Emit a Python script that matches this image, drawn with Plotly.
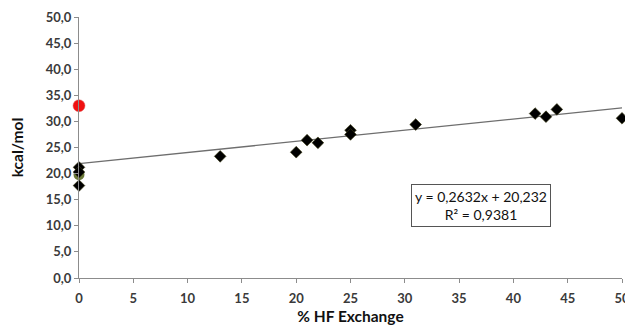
import plotly.graph_objects as go

# Data
hf_x = [0, 0, 0, 13, 20, 21, 22, 25, 25, 31, 42, 43, 44, 50]
kcal_y = [21.2, 20.3, 17.7, 23.3, 24.1, 26.4, 25.9, 28.3, 27.5, 29.4, 31.5, 30.9, 32.3, 30.6]
green_x = [0]
green_y = [19.8]
red_x = [0]
red_y = [33.0]
trend_x = [0, 50]
trend_y = [21.9, 32.6]
eq_text = "y = 0,2632x + 20,232<br>R² = 0,9381"

FONT = "Lato, 'Open Sans', sans-serif"

fig = go.Figure()
fig.add_trace(go.Scatter(x=trend_x, y=trend_y, mode="lines",
                         line=dict(color="#6e6e6e", width=1.3),
                         hoverinfo="skip", showlegend=False))
fig.add_trace(go.Scatter(x=green_x, y=green_y, mode="markers",
                         marker=dict(symbol="circle", size=11, color="#6b7a3a"),
                         showlegend=False, cliponaxis=False))
fig.add_trace(go.Scatter(x=hf_x, y=kcal_y, mode="markers",
                         marker=dict(symbol="diamond", size=9, color="#000000",
                                     line=dict(color="#3a3a10", width=0.6)),
                         showlegend=False, cliponaxis=False))
fig.add_trace(go.Scatter(x=red_x, y=red_y, mode="markers",
                         marker=dict(symbol="circle", size=12, color="#f01010",
                                     line=dict(color="#e06060", width=0.5)),
                         showlegend=False, cliponaxis=False))

fig.add_annotation(x=37.0, y=13.8, xref="x", yref="y",
                   text=eq_text, showarrow=False, align="center",
                   font=dict(family=FONT, size=14, color="#111111"),
                   bordercolor="#555555", borderwidth=1, borderpad=3,
                   bgcolor="white", xanchor="center", yanchor="middle")

axis_common = dict(showgrid=False, zeroline=False, showline=True,
                   linecolor="#8c8c8c", linewidth=1.2, automargin=False,
                   ticks="outside", ticklen=4, tickcolor="#8c8c8c",
                   tickfont=dict(family=FONT, size=13, color="#3a3a3a", weight="bold"))

# page body has an 8px margin, so the figure is sized 8px smaller
fig.update_layout(
    width=625, height=318,
    margin=dict(l=71, r=11, t=9, b=48),
    paper_bgcolor="white", plot_bgcolor="white",
    separators=", ",
    xaxis=dict(range=[0, 50], tickmode="linear", tick0=0, dtick=5,
               ticklabelstandoff=4,
               title=dict(text="% HF Exchange", standoff=6,
                          font=dict(family=FONT, size=15.5, color="#111111", weight="bold")),
               **axis_common),
    yaxis=dict(range=[0, 50], tickmode="linear", tick0=0, dtick=5, tickformat=".1f",
               title=dict(text="kcal/mol", standoff=19,
                          font=dict(family=FONT, size=15.5, color="#111111", weight="bold")),
               **axis_common),
)

fig.write_html("out.html")
